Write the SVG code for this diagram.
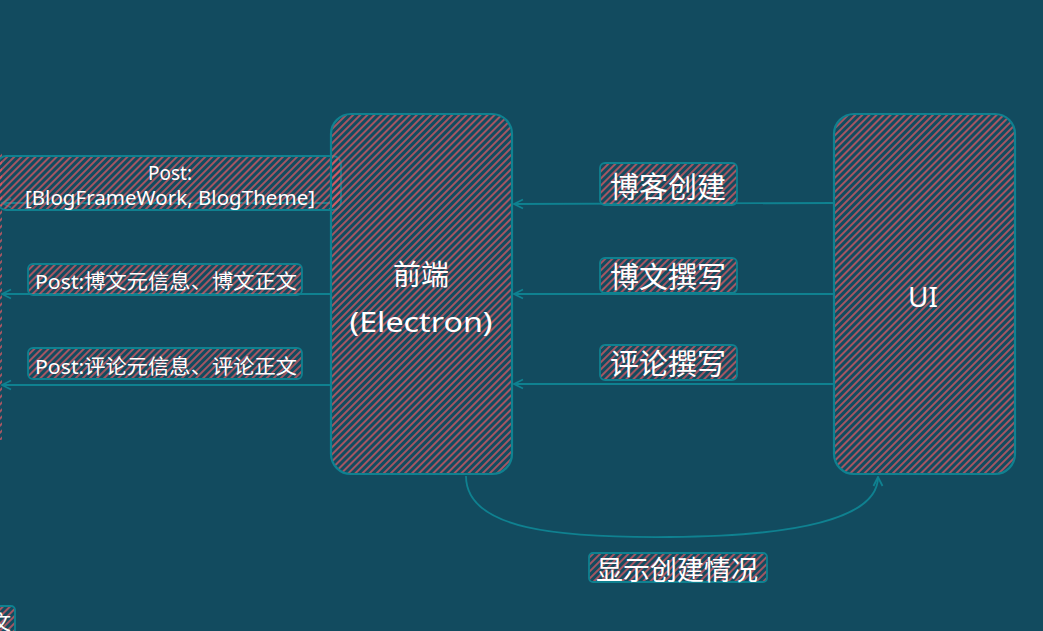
<svg xmlns="http://www.w3.org/2000/svg" width="1043" height="631" viewBox="0 0 1043 631">
<style>
.bg{fill:#124b5f}
.node{fill:url(#hatch);stroke:#0f8190;stroke-width:2.2}
.lbl{fill:url(#hatch);stroke:#0f8190;stroke-width:1.8}
.edge{fill:none;stroke:#0f8190;stroke-width:1.8}
.t{fill:#ffffff;font-family:"Noto Sans","Noto Sans CJK SC",sans-serif;text-anchor:middle;dominant-baseline:central}
</style>
<defs>
<pattern id="hatch" width="5" height="5" patternUnits="userSpaceOnUse" patternTransform="rotate(45)">
<line x1="1" y1="0" x2="1" y2="5" stroke="#e35a63" stroke-width="1.4"/>
</pattern>
<marker id="arr" viewBox="0 0 12 12" refX="11" refY="6" markerWidth="12" markerHeight="12" markerUnits="userSpaceOnUse" orient="auto">
<path d="M2,1.5 L11,6 L2,10.5" fill="none" stroke="#0f8190" stroke-width="1.8"/>
</marker>
</defs>
<rect class="bg" x="0" y="0" width="1043" height="631"/>

<g id="offscreen-left">
<rect class="node" x="-120" y="150" width="117" height="292" rx="10"/>
<rect fill="url(#hatch)" x="-4" y="152" width="6" height="288"/>
</g>
<g id="offscreen-bottom-left">
<rect class="lbl" x="-80" y="606" width="95" height="40" rx="4"/>
<text class="t" x="1" y="622" font-size="20">文</text>
</g>

<g id="connectors">
<line class="edge" x1="331" y1="203" x2="2" y2="203" marker-end="url(#arr)"/>
<line class="edge" x1="331" y1="294" x2="2" y2="294" marker-end="url(#arr)"/>
<line class="edge" x1="331" y1="385" x2="2" y2="385" marker-end="url(#arr)"/>
<line class="edge" x1="834" y1="203" x2="514" y2="204" marker-end="url(#arr)"/>
<line class="edge" x1="834" y1="294" x2="514" y2="294" marker-end="url(#arr)"/>
<line class="edge" x1="834" y1="384" x2="514" y2="384" marker-end="url(#arr)"/>
<path class="edge" d="M466,476 C466,530 560,538 670,537 C790,536 878,520 878,477" marker-end="url(#arr)"/>
</g>

<g id="post-frame">
<rect class="lbl" x="-2" y="156" width="343" height="54" rx="8"/>
<text class="t" x="170" y="173" font-size="19">Post:</text>
<text class="t" x="170" y="198" font-size="19" textLength="290" lengthAdjust="spacingAndGlyphs">[BlogFrameWork, BlogTheme]</text>
</g>
<g id="post-blog">
<rect class="lbl" x="28" y="264" width="274" height="31" rx="5"/>
<text class="t" x="166" y="281" font-size="20" textLength="262" lengthAdjust="spacingAndGlyphs">Post:博文元信息、博文正文</text>
</g>
<g id="post-comment">
<rect class="lbl" x="28" y="348" width="274" height="31" rx="5"/>
<text class="t" x="166" y="366" font-size="20" textLength="262" lengthAdjust="spacingAndGlyphs">Post:评论元信息、评论正文</text>
</g>

<g id="frontend">
<rect class="node" x="331" y="114" width="181" height="360" rx="20"/>
<text class="t" x="421" y="274" font-size="28">前端</text>
<text class="t" x="421" y="321" font-size="28" textLength="143" lengthAdjust="spacingAndGlyphs">(Electron)</text>
</g>
<g id="ui">
<rect class="node" x="834" y="114" width="181" height="360" rx="20"/>
<text class="t" x="923" y="296" font-size="28">UI</text>
</g>

<g id="lbl-create">
<rect class="lbl" x="600" y="163" width="137" height="42" rx="5"/>
<text class="t" x="668" y="186" font-size="29">博客创建</text>
</g>
<g id="lbl-write">
<rect class="lbl" x="600" y="258" width="137" height="35" rx="5"/>
<text class="t" x="668" y="276" font-size="29">博文撰写</text>
</g>
<g id="lbl-comment">
<rect class="lbl" x="600" y="345" width="137" height="35" rx="5"/>
<text class="t" x="668" y="363" font-size="29">评论撰写</text>
</g>
<g id="lbl-status">
<rect class="lbl" x="589" y="553" width="178" height="29" rx="4"/>
<text class="t" x="677" y="569" font-size="27">显示创建情况</text>
</g>
</svg>
